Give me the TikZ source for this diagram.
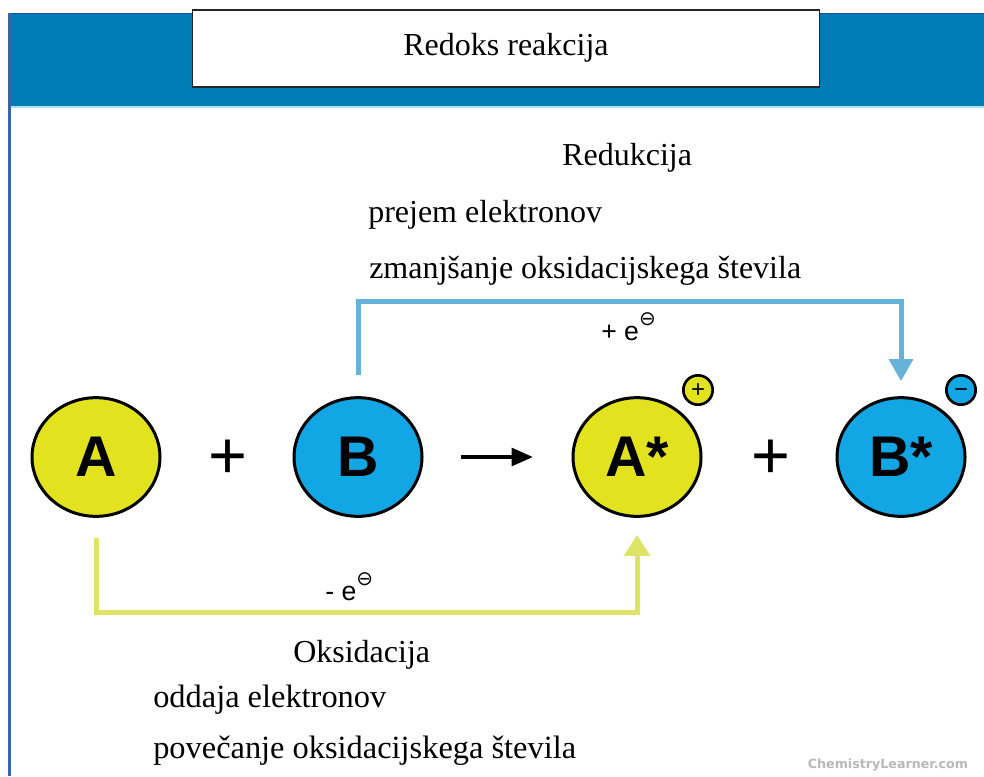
\documentclass[tikz,border=0pt]{standalone}
\usepackage{fontspec}
\setmainfont{Liberation Serif}
\setsansfont{Liberation Sans}
\newfontfamily\dejavu{DejaVu Sans}
\usetikzlibrary{shapes.geometric,arrows.meta,calc}
\definecolor{band}{RGB}{0,123,181}
\definecolor{bandtop}{RGB}{40,80,150}
\definecolor{bandlow}{RGB}{170,225,240}
\definecolor{frameblue}{RGB}{58,98,168}
\definecolor{ball}{RGB}{226,226,30}
\definecolor{bball}{RGB}{18,166,228}
\definecolor{barrow}{RGB}{103,178,218}
\definecolor{yarrow}{RGB}{222,228,104}
\definecolor{wm}{RGB}{185,185,185}
\tikzset{
  atom/.style={ellipse, draw=black, line width=2.25pt, minimum width=96pt, minimum height=89pt, inner sep=0pt,
     font=\sffamily\bfseries\fontsize{43}{43}\selectfont},
  charge/.style={circle, draw=black, line width=2pt, minimum size=22pt, inner sep=0pt,
     font=\sffamily\fontsize{18}{18}\selectfont, text height=11.2pt, text depth=0pt},
  bigplus/.style={font=\sffamily\fontsize{50}{50}\selectfont, inner sep=0pt},
  txt/.style={font=\fontsize{24}{24}\selectfont, inner sep=0pt, anchor=base west},
  txtb/.style={font=\fontsize{24.3}{24.3}\selectfont, inner sep=0pt, anchor=base west},
  elabel/.style={font=\sffamily\fontsize{20}{20}\selectfont, inner sep=0pt, anchor=base west},
  bluearrow/.style={draw=barrow, line width=3.75pt, -{Triangle[length=16.5pt,width=17.5pt]}},
  yellowarrow/.style={draw=yarrow, line width=3.75pt, -{Triangle[length=15.75pt,width=19pt]}},
}
\newcommand{\emin}{e\raisebox{0.56em}{\dejavu\fontsize{15}{15}\selectfont ⊖}}
\begin{document}
\begin{tikzpicture}[x=0.75pt,y=-0.75pt]
\useasboundingbox (0,0) rectangle (984,776);
\fill[white] (0,0) rectangle (984,776);
% header band
\fill[band] (9,13) rectangle (984,106);
\draw[bandtop, line width=1.2pt] (9,13.5) -- (984,13.5);
\draw[bandlow, line width=1.2pt] (11,107) -- (984,107);
\draw[frameblue, line width=2.3pt] (9.7,13) -- (9.7,776);
\node[draw=black!85, line width=1.1pt, fill=white, minimum width=470.25pt, minimum height=57.75pt, inner sep=0pt] (title) at (506,48.5) {};
\node[font=\fontsize{24}{24}\selectfont, inner sep=0pt, anchor=base] (titletext) at (506,55) {Redoks reakcija};
% atoms
\node[atom, fill=ball] (A) at (96,457) {A};
\node[atom, fill=bball] (B) at (358,457) {B};
\node[atom, fill=ball] (Astar) at (637,457) {A*};
\node[atom, fill=bball] (Bstar) at (901,457) {B*};
\node[charge, fill=ball] (pc) at (698,390) {+};
\node[charge, fill=bball] (mc) at (961,390) {−};
\node[bigplus] (p1) at (228,459) {+};
\node[bigplus] (p2) at (771,459) {+};
% reaction arrow
\draw[black, line width=2.4pt, -{Triangle[length=16pt,width=13.5pt]}, shorten <=27.75pt, shorten >=29pt] (B) -- (Astar);
% reduction arrow
\coordinate (rtop) at (630,301);
\draw[bluearrow, shorten <=15.75pt, shorten >=11.25pt] (B.north) |- (rtop) -| (Bstar.north);
% oxidation arrow
\coordinate (ybot) at (360,612);
\draw[yellowarrow, shorten <=15pt, shorten >=12.75pt] (A.south) |- (ybot) -| (Astar.south);
% electron labels
\node[elabel] (eplus) at (601,340) {+ \emin};
\node[elabel] (eminus) at (325,600) {- \emin};
% texts
\node[txt] (red) at (562,165) {Redukcija};
\node[txt] (red1) at (368,222) {prejem elektronov};
\node[txt] (red2) at (369,278) {zmanjšanje oksidacijskega števila};
\node[txt] (ox) at (293,662) {Oksidacija};
\node[txtb] (ox1) at (153,707) {oddaja elektronov};
\node[txtb] (ox2) at (153,758) {povečanje oksidacijskega števila};
\node[font=\dejavu\bfseries\fontsize{9.5}{9.5}\selectfont, text=wm, inner sep=0pt] (wmark) at (888,765) {ChemistryLearner.com};
\end{tikzpicture}
\end{document}
